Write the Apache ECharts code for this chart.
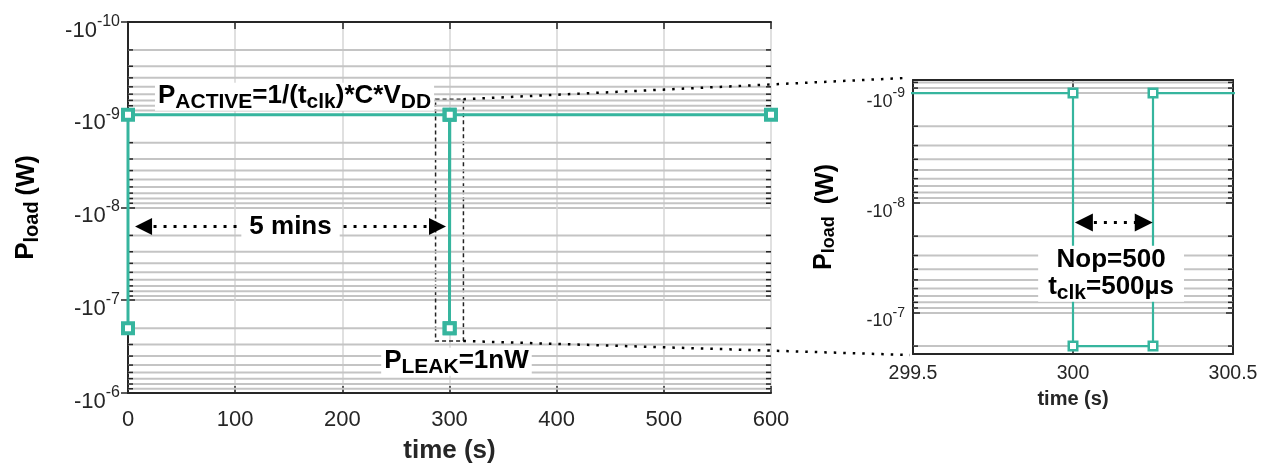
<!DOCTYPE html>
<html>
<head>
<meta charset="utf-8">
<script src="https://cdn.jsdelivr.net/npm/echarts@6/dist/echarts.min.js"></script>
<style>
  html, body { margin: 0; padding: 0; background: #fff; }
  #chart { width: 1275px; height: 463px; }
</style>
</head>
<body>
<div id="chart"></div>
<script>
// Load power over one sleep / active cycle (negative = power drawn by the load)
const timeS  = [0, 0, 300, 300, 300.25, 300.25, 600];
const powerW = [-2e-7, -1e-9, -1e-9, -2e-7, -2e-7, -1e-9, -1e-9];

// Axis ranges and ticks
const overviewTimeTicks = [0, 100, 200, 300, 400, 500, 600];
const zoomTimeTicks     = [299.5, 300, 300.5];
const overviewPowerLimits = [-1e-10, -1e-6];
const zoomPowerLimits     = [-7.6e-10, -2.36e-7];

const FONT = "'Liberation Sans', Arial, Helvetica, sans-serif";
const TEAL = '#36b59e';
const INK = '#262626';

// log axes work on magnitudes; labels put the sign back
const mag = v => Math.abs(v);
const points = timeS.map((t, i) => [t, mag(powerW[i])]);

function decadeLabel(v) {
  const e = Math.log10(v);
  const r = Math.round(e);
  if (Math.abs(e - r) > 1e-6) return '';
  return '{b|-10}{s|' + r + '}';
}
function supRich(base, sup, lift) {
  return {
    b: { fontSize: base, fontFamily: FONT, color: INK, verticalAlign: 'bottom' },
    s: { fontSize: sup, fontFamily: FONT, color: INK, verticalAlign: 'bottom', padding: [0, 0, lift, 0] }
  };
}
function subRich(base, sub, drop, extra) {
  const r = {
    p: { fontSize: base, fontFamily: FONT, fontWeight: 'bold', color: '#000', verticalAlign: 'top' },
    s: { fontSize: sub, fontFamily: FONT, fontWeight: 'bold', color: '#000', verticalAlign: 'top', padding: [drop, 0, 0, 0] }
  };
  return Object.assign(r, extra || {});
}

// minor decade lines (2..9 x 10^n) inside a magnitude range
function minorValues(lo, hi) {
  const out = [];
  for (let e = Math.floor(Math.log10(lo)); e < Math.ceil(Math.log10(hi)); e++) {
    for (let k = 2; k <= 9; k++) {
      const v = k * Math.pow(10, e);
      if (v > lo * 1.0001 && v < hi * 0.9999) out.push(v);
    }
  }
  return out;
}

function minorGrid(tickLen) {
  return function (params, api) {
    const cs = params.coordSys;
    const y = api.coord([api.value(0), api.value(1)])[1];
    if (y < cs.y || y > cs.y + cs.height) return null;
    return {
      type: 'group',
      children: [
        { type: 'line', shape: { x1: cs.x, y1: y, x2: cs.x + cs.width, y2: y },
          style: { stroke: '#c4c4c4', lineWidth: 2 } },
        { type: 'line', shape: { x1: cs.x, y1: y, x2: cs.x + tickLen, y2: y },
          style: { stroke: INK, lineWidth: 1.5 } },
        { type: 'line', shape: { x1: cs.x + cs.width - tickLen, y1: y, x2: cs.x + cs.width, y2: y },
          style: { stroke: INK, lineWidth: 1.5 } }
      ]
    };
  };
}

function xAxes(gridIndex, ticks, fontSize, nameSize, nameGap, margin) {
  const base = {
    gridIndex: gridIndex, type: 'value',
    min: ticks[0], max: ticks[ticks.length - 1], interval: ticks[1] - ticks[0]
  };
  return [
    Object.assign({}, base, {
      position: 'bottom',
      axisLine: { onZero: false, lineStyle: { color: INK, width: 2 } },
      axisTick: { inside: true, length: 7, lineStyle: { color: INK, width: 1.5 } },
      axisLabel: { fontSize: fontSize, fontFamily: FONT, color: INK, margin: margin },
      splitLine: { show: true, lineStyle: { color: '#d6d6d6', width: 1.5 } },
      name: 'time (s)', nameLocation: 'middle', nameGap: nameGap, nameMoveOverlap: false,
      nameTextStyle: { fontSize: nameSize, fontWeight: 'bold', fontFamily: FONT, color: INK }
    }),
    Object.assign({}, base, {
      position: 'top',
      axisLine: { onZero: false, lineStyle: { color: INK, width: 2 } },
      axisTick: { inside: true, length: 7, lineStyle: { color: INK, width: 1.5 } },
      axisLabel: { show: false },
      splitLine: { show: false }
    })
  ];
}

function yAxes(gridIndex, limits, labelSizes, nameSizes, nameGap) {
  const common = {
    gridIndex: gridIndex, type: 'log', logBase: 10,
    min: mag(limits[0]), max: mag(limits[1]), inverse: true
  };
  const nameRich = subRich(nameSizes[0], nameSizes[1], nameSizes[2], {
    w: { fontSize: nameSizes[3], fontFamily: FONT, fontWeight: 'bold', color: '#000',
         verticalAlign: 'top', padding: [2, 0, 0, nameSizes[4]] }
  });
  return [
    Object.assign({}, common, {
      position: 'left',
      axisLine: { lineStyle: { color: INK, width: 2 } },
      axisTick: { inside: true, length: 7, lineStyle: { color: INK, width: 1.5 } },
      axisLabel: { formatter: decadeLabel, margin: 8, padding: [labelSizes[3], 0, 0, 0],
                   rich: supRich(labelSizes[0], labelSizes[1], labelSizes[2]) },
      splitLine: { show: true, lineStyle: { color: '#c4c4c4', width: 2 } },
      name: '{p|P}{s|load}{w|(W)}', nameLocation: 'middle', nameRotate: 90, nameGap: nameGap,
      nameMoveOverlap: false,
      nameTextStyle: { rich: nameRich }
    }),
    Object.assign({}, common, {
      position: 'right',
      axisLine: { lineStyle: { color: INK, width: 2 } },
      axisTick: { inside: true, length: 7, lineStyle: { color: INK, width: 1.5 } },
      axisLabel: { show: false },
      splitLine: { show: false }
    })
  ];
}

function textMark(coord, text, rich, pad) {
  return {
    coord: coord, symbol: 'rect', symbolSize: 0,
    label: { show: true, position: 'inside', formatter: text, rich: rich,
             backgroundColor: '#fff', padding: pad, lineHeight: 28 }
  };
}

const arrowLine = {
  silent: true,
  symbol: ['triangle', 'triangle'],
  lineStyle: { color: '#000', width: 3, type: [3, 7], opacity: 1 },
  itemStyle: { color: '#000' },
  emphasis: { disabled: true }
};

const chart = echarts.init(document.getElementById('chart'), null, { renderer: 'canvas' });

const option = {
  animation: false,
  backgroundColor: '#fff',
  grid: [
    { left: 128, top: 22, width: 643, height: 371, outerBoundsMode: 'none', containLabel: false },
    { left: 913, top: 80, width: 320, height: 274, outerBoundsMode: 'none', containLabel: false }
  ],
  xAxis: xAxes(0, overviewTimeTicks, 22, 26, 45, 16).concat(xAxes(1, zoomTimeTicks, 19.5, 20, 35, 10)),
  yAxis: yAxes(0, overviewPowerLimits, [22, 16, 12, 11], [26, 20, 9, 25, 6], 86)
    .concat(yAxes(1, zoomPowerLimits, [18, 14, 10, 11], [25, 18, 8, 25, 12], 74)),
  series: [
    {
      type: 'custom', xAxisIndex: 0, yAxisIndex: 0, z: 1, silent: true,
      renderItem: minorGrid(5),
      data: minorValues(mag(overviewPowerLimits[0]), mag(overviewPowerLimits[1])).map(v => [overviewTimeTicks[0], v])
    },
    {
      type: 'custom', xAxisIndex: 2, yAxisIndex: 2, z: 1, silent: true,
      renderItem: minorGrid(5),
      data: minorValues(mag(zoomPowerLimits[0]), mag(zoomPowerLimits[1])).map(v => [zoomTimeTicks[0], v])
    },
    {
      name: 'overview', type: 'line', xAxisIndex: 0, yAxisIndex: 0, z: 3,
      data: points, showAllSymbol: true,
      symbol: 'rect', symbolSize: 10,
      itemStyle: { color: '#fff', borderColor: TEAL, borderWidth: 4 },
      lineStyle: { color: TEAL, width: 3 },
      emphasis: { disabled: true },
      markArea: {
        silent: true,
        itemStyle: { color: 'rgba(0,0,0,0)', borderColor: '#222', borderWidth: 1.5, borderType: [4, 3] },
        data: [[{ coord: [287, 6.8e-10] }, { coord: [313, 2.75e-7] }]]
      },
      markLine: Object.assign({}, arrowLine, {
        symbolSize: [17, 17],
        label: {
          show: true, position: 'middle', formatter: '5 mins', distance: 0,
          verticalAlign: 'middle',
          fontSize: 26, fontWeight: 'bold', fontFamily: FONT, color: '#000',
          backgroundColor: '#fff', padding: [2, 8]
        },
        data: [[{ coord: [14.5, 1.6e-8] }, { coord: [288.8, 1.6e-8] }]]
      }),
      markPoint: {
        silent: true,
        data: [
          textMark([155.4, 6.4e-10], '{p|P}{s|ACTIVE}{p|=1/(t}{s|clk}{p|)*C*V}{s|DD}', subRich(26, 21, 9), [0, 3]),
          textMark([306.5, 4.6e-7], '{p|P}{s|LEAK}{p|=1nW}', subRich(26, 21, 9), [0, 3])
        ]
      }
    },
    {
      name: 'zoom', type: 'line', xAxisIndex: 2, yAxisIndex: 2, z: 3,
      data: points, showAllSymbol: true, clip: true,
      symbol: 'rect', symbolSize: 8.5,
      itemStyle: { color: '#fff', borderColor: TEAL, borderWidth: 2.5 },
      lineStyle: { color: TEAL, width: 2.2 },
      emphasis: { disabled: true },
      markLine: Object.assign({}, arrowLine, {
        symbolSize: [18, 18],
        label: { show: false },
        data: [[{ coord: [300.034, 1.5e-8] }, { coord: [300.221, 1.5e-8] }]]
      }),
      markPoint: {
        silent: true,
        data: [
          textMark([300.119, 4.4e-8], '{n|Nop=500}\n{p|t}{s|clk}{p|=500µs}',
            subRich(26, 21, 9, { n: { fontSize: 26, fontFamily: FONT, fontWeight: 'bold', color: '#000', lineHeight: 28 } }),
            [0, 10])
        ]
      }
    }
  ]
};

chart.setOption(option);

// dotted connectors from the dashed box to the zoomed panel
const boxTop = chart.convertToPixel({ gridIndex: 0 }, [313, 6.8e-10]);
const boxBottom = chart.convertToPixel({ gridIndex: 0 }, [313, 2.75e-7]);
const panelTop = chart.convertToPixel({ gridIndex: 1 }, [zoomTimeTicks[0], mag(zoomPowerLimits[0])]);
const panelBottom = chart.convertToPixel({ gridIndex: 1 }, [zoomTimeTicks[0], mag(zoomPowerLimits[1])]);
const dotted = { stroke: '#000', lineWidth: 2.5, lineDash: [2.5, 7] };
chart.setOption({
  graphic: [
    { type: 'line', z: 10, silent: true,
      shape: { x1: boxTop[0], y1: boxTop[1], x2: panelTop[0] - 8, y2: panelTop[1] - 2 }, style: dotted },
    { type: 'line', z: 10, silent: true,
      shape: { x1: boxBottom[0], y1: boxBottom[1], x2: panelBottom[0] - 3, y2: panelBottom[1] + 1 }, style: dotted }
  ]
});
</script>
</body>
</html>
